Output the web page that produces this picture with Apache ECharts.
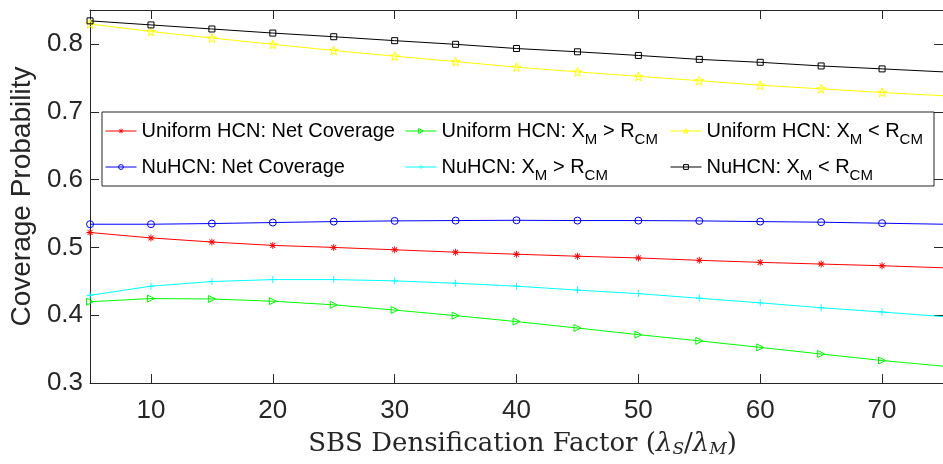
<!DOCTYPE html>
<html>
<head>
<meta charset="utf-8">
<script src="https://cdn.jsdelivr.net/npm/echarts@6/dist/echarts.min.js"></script>
<style>
  html, body { margin: 0; padding: 0; background: #fff; }
  #chart { width: 943px; height: 464px; }
</style>
</head>
<body>
<div id="chart"></div>
<script>
// SBS densification factor (lambda_S / lambda_M)
const densification = [5, 10, 15, 20, 25, 30, 35, 40, 45, 50, 55, 60, 65, 70, 75];

// Coverage probability per scheme
const uniformNet  = [0.522, 0.514, 0.508, 0.503, 0.500, 0.4965, 0.493, 0.490, 0.487, 0.4845, 0.481, 0.478, 0.4755, 0.473, 0.470];
const uniformFar  = [0.420, 0.4246, 0.424, 0.4207, 0.4154, 0.4077, 0.3994, 0.3907, 0.3812, 0.3714, 0.3623, 0.3526, 0.3429, 0.3333, 0.325];
const uniformNear = [0.8294, 0.8183, 0.8087, 0.7994, 0.7903, 0.782, 0.7739, 0.7657, 0.7588, 0.7522, 0.7458, 0.7391, 0.7338, 0.7284, 0.7236];
const nuNet       = [0.5342, 0.5342, 0.5352, 0.5367, 0.5381, 0.5391, 0.5396, 0.540, 0.5396, 0.5396, 0.5391, 0.5381, 0.5372, 0.5357, 0.5342];
const nuFar       = [0.4294, 0.4429, 0.4497, 0.4526, 0.4526, 0.4507, 0.4472, 0.4429, 0.4371, 0.4319, 0.4251, 0.4183, 0.4111, 0.4048, 0.398];
const nuNear      = [0.834, 0.828, 0.822, 0.816, 0.8106, 0.8048, 0.7994, 0.7932, 0.7884, 0.783, 0.7772, 0.7729, 0.7675, 0.7632, 0.7588];

// Axis ticks
const xTicks = [10, 20, 30, 40, 50, 60, 70];
const yTicks = [0.3, 0.4, 0.5, 0.6, 0.7, 0.8];
const lastMarkerX = 70;

const names = {
  uniformNet: 'Uniform HCN: Net Coverage',
  uniformFar: 'Uniform HCN: X_M > R_CM',
  uniformNear: 'Uniform HCN: X_M < R_CM',
  nuNet: 'NuHCN: Net Coverage',
  nuFar: 'NuHCN: X_M > R_CM',
  nuNear: 'NuHCN: X_M < R_CM'
};

const SANS = '"Liberation Sans", Arial, Helvetica, sans-serif';
const SERIF = '"DejaVu Serif", "Liberation Serif", serif';
const INK = '#262626';
const CLEAR = 'rgba(255,255,255,0)';

const SYM = {
  asterisk: 'path://M8.75,0H11.25V20H8.75Z M0,8.75H20V11.25H0Z M2.0,3.8L3.8,2.0L18.0,16.2L16.2,18.0Z M16.2,2.0L18.0,3.8L3.8,18.0L2.0,16.2Z',
  plus: 'path://M8.7,0H11.3V20H8.7Z M0,8.7H20V11.3H0Z',
  triRight: 'path://M0,0L20,10L0,20Z',
  star: 'path://M10,0L12.245,6.91L19.511,6.91L13.633,11.18L15.878,18.09L10,13.82L4.122,18.09L6.367,11.18L0.489,6.91L7.755,6.91Z'
};

// Series styling: colour, marker, marker size, outlined marker
const styles = {};
styles[names.uniformNet]  = { color: '#ff0000', symbol: SYM.asterisk, size: 7, outline: false };
styles[names.uniformFar]  = { color: '#00ff00', symbol: SYM.triRight, size: 7, outline: true };
styles[names.uniformNear] = { color: '#ffff00', symbol: SYM.star, size: 9, outline: true };
styles[names.nuNet]       = { color: '#0000ff', symbol: 'circle', size: 7, outline: true };
styles[names.nuFar]       = { color: '#00ffff', symbol: SYM.plus, size: 7, outline: false };
styles[names.nuNear]      = { color: '#000000', symbol: 'rect', size: 6, outline: true };

function points(values) {
  return densification.map((x, i) => {
    const item = { value: [x, values[i]] };
    if (x > lastMarkerX) item.symbol = 'none';
    return item;
  });
}

function markerStyle(st) {
  return st.outline
    ? { color: CLEAR, borderColor: st.color, borderWidth: 1 }
    : { color: st.color, borderWidth: 0 };
}

function lineSeries(name, values) {
  const st = styles[name];
  return {
    type: 'line',
    name: name,
    data: points(values),
    symbol: st.symbol,
    symbolSize: st.size,
    showAllSymbol: true,
    lineStyle: { color: st.color, width: 1 },
    itemStyle: markerStyle(st),
    emphasis: { disabled: true },
    animation: false,
    z: 3
  };
}

const series = [
  lineSeries(names.uniformNet, uniformNet),
  lineSeries(names.uniformFar, uniformFar),
  lineSeries(names.uniformNear, uniformNear),
  lineSeries(names.nuNet, nuNet),
  lineSeries(names.nuFar, nuFar),
  lineSeries(names.nuNear, nuNear)
];

function legendText(name) {
  return name.replace('X_M', 'X{sub|M}').replace('R_CM', 'R{sub|CM}');
}

// Legend laid out as a 3 x 2 grid inside a framed box
const legendCols = [105, 405, 670];
const legendRows = [131, 167];
const legendOrder = [
  [names.uniformNet, names.uniformFar, names.uniformNear],
  [names.nuNet, names.nuFar, names.nuNear]
];
const LEGEND_LH = 33;
const legends = [];
legendOrder.forEach((row, r) => {
  row.forEach((nm, c) => {
    const st = styles[nm];
    legends.push({
      data: [nm],
      left: legendCols[c],
      top: legendRows[r] - LEGEND_LH / 2,
      orient: 'vertical',
      padding: 0,
      itemWidth: 31,
      itemHeight: 6,
      selectedMode: false,
      itemStyle: markerStyle(st),
      lineStyle: { color: st.color, width: 1 },
      formatter: legendText,
      textStyle: {
        fontFamily: SANS,
        fontSize: 20,
        color: '#000',
        lineHeight: LEGEND_LH,
        rich: {
          sub: { fontFamily: SANS, fontSize: 15, color: '#000', padding: [17, 0, 0, 0] }
        }
      }
    });
  });
});

const axisLine = { show: true, onZero: false, lineStyle: { color: INK, width: 1 } };

const option = {
  backgroundColor: '#fff',
  animation: false,
  grid: { left: 87, top: 10, right: -4, bottom: 75, containLabel: false },
  xAxis: [
    {
      type: 'value', min: 5, max: 75, position: 'bottom',
      axisLine: axisLine,
      axisTick: { show: true, inside: true, length: 9, lineStyle: { color: INK }, customValues: xTicks },
      axisLabel: { show: true, customValues: xTicks, margin: 15, fontFamily: SANS, fontSize: 26, color: INK },
      splitLine: { show: false },
      name: 'SBS Densification Factor ({it|λ}{sb|S}/{it|λ}{sb|M})',
      nameLocation: 'middle',
      nameGap: 45,
      nameTextStyle: {
        fontFamily: SERIF, fontSize: 26, color: INK, padding: [0, 0, 0, 12],
        lineHeight: 30,
        rich: {
          it: { fontFamily: SERIF, fontStyle: 'italic', fontSize: 26, color: INK },
          sb: { fontFamily: SERIF, fontStyle: 'italic', fontSize: 17, color: INK, padding: [12, 0, 0, 0] }
        }
      }
    },
    {
      type: 'value', min: 5, max: 75, position: 'top',
      axisLine: axisLine,
      axisTick: { show: true, inside: true, length: 9, lineStyle: { color: INK }, customValues: xTicks },
      axisLabel: { show: false },
      splitLine: { show: false }
    }
  ],
  yAxis: [
    {
      type: 'value', min: 0.3, max: 0.85, position: 'left',
      axisLine: axisLine,
      axisTick: { show: true, inside: true, length: 9, lineStyle: { color: INK }, customValues: yTicks },
      axisLabel: {
        show: true, customValues: yTicks, margin: 7, fontFamily: SANS, fontSize: 26, color: INK,
        formatter: v => v.toFixed(1)
      },
      splitLine: { show: false },
      name: 'Coverage Probability',
      nameLocation: 'middle',
      nameGap: 48,
      nameTextStyle: { fontFamily: SANS, fontSize: 28, color: INK }
    },
    {
      type: 'value', min: 0.3, max: 0.85, position: 'right',
      axisLine: axisLine,
      axisTick: { show: true, inside: true, length: 9, lineStyle: { color: INK }, customValues: yTicks },
      axisLabel: { show: false },
      splitLine: { show: false }
    }
  ],
  legend: legends,
  graphic: [
    {
      type: 'rect',
      shape: { x: 102, y: 112, width: 832, height: 74 },
      style: { fill: '#fff', stroke: INK, lineWidth: 1 },
      z: 1
    }
  ],
  series: series
};

const chart = echarts.init(document.getElementById('chart'), null, { renderer: 'canvas' });
chart.setOption(option);
</script>
</body>
</html>
